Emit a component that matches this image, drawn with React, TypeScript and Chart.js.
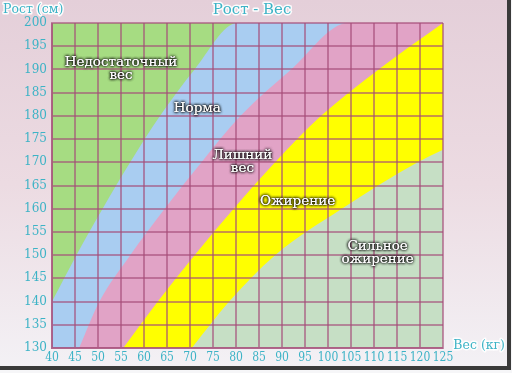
import React, { useEffect, useRef } from "react";
import { Chart, registerables } from "chart.js";
Chart.register(...registerables);

// Axes
const weightMin = 40;
const weightMax = 125;
const heightMin = 130;
const heightMax = 200;
const tickStep = 5;

// Boundaries (weight kg, height cm)
const underNormW = [40, 45.3, 51, 57, 63.5, 71, 80.3, 125];
const underNormH = [140, 150, 160, 170, 180, 190, 200, 200];

const normOverW = [45.9, 50.3, 57, 64.5, 72.5, 81, 92, 104.4, 125];
const normOverH = [130, 140, 150, 160, 170, 180, 190, 200, 200];

const overObeseW = [55.5, 63, 71, 79.5, 88.5, 98.5, 111, 125];
const overObeseH = [130, 140, 150, 160, 170, 180, 190, 200];

const obeseSevereW = [70.4, 78.5, 88.5, 103, 119.5, 125];
const obeseSevereH = [130, 140, 150, 160, 170, 172.7];

const fullW = [40, 125];
const fullH = [200, 200];

// Region labels
const regionLabels = [["Недостаточный", "вес"], ["Норма"], ["Лишний", "вес"], ["Ожирение"], ["Сильное", "ожирение"]];
const regionLabelW = [55.0, 71.6, 81.4, 93.4, 110.8];
const regionLabelH = [191.4, 181.6, 171.5, 161.5, 151.8];

const titleText = "Рост - Вес";
const yTitle = "Рост (см)";
const xTitle = "Вес (кг)";

const pts = (w: number[], h: number[]) => w.map((x, i) => ({ x, y: h[i] }));

const FONT = '"DejaVu Serif", serif';
const FONT_COND = '"DejaVu Serif Condensed", "DejaVu Serif", serif';
const TEAL = "#3db3c6";
const GRID = "rgba(165,75,120,0.6)";

export default function App() {
  const ref = useRef<HTMLCanvasElement | null>(null);
  useEffect(() => {
    if (!ref.current) return;
    const bgPlugin = {
      id: "bg",
      beforeDraw(chart: any) {
        const ctx = chart.ctx as CanvasRenderingContext2D;
        ctx.save();
        ctx.fillStyle = "#f6f6f8";
        ctx.fillRect(0, 0, 512, 373);
        const g = ctx.createLinearGradient(0, 0, 0, 367);
        g.addColorStop(0, "#e4cfd9");
        g.addColorStop(0.5, "#ecdbe2");
        g.addColorStop(1, "#f3f1f5");
        ctx.fillStyle = g;
        ctx.fillRect(0, 0, 507, 367);
        ctx.fillStyle = "#3a3a3a";
        ctx.fillRect(507, 0, 4, 370);
        ctx.fillRect(0, 366, 511, 4);
        ctx.restore();
      },
    };
    const textPlugin = {
      id: "texts",
      afterDraw(chart: any) {
        const ctx = chart.ctx as CanvasRenderingContext2D;
        const xs = chart.scales.x;
        const ys = chart.scales.y;
        ctx.save();
        const outlined = (t: string, x: number, y: number, size: number, align: CanvasTextAlign) => {
          ctx.font = `${size}px ${FONT}`;
          ctx.textAlign = align;
          ctx.textBaseline = "middle";
          ctx.lineJoin = "round";
          ctx.strokeStyle = "rgba(255,255,255,0.9)";
          ctx.lineWidth = 3;
          ctx.strokeText(t, x, y);
          ctx.fillStyle = TEAL;
          ctx.fillText(t, x, y);
        };
        outlined(titleText, 252, 10, 15, "center");
        outlined(yTitle, 3, 10, 12.5, "left");
        outlined(xTitle, 505, 346, 12.5, "right");
        ctx.font = `13.5px ${FONT}`;
        ctx.textAlign = "center";
        ctx.textBaseline = "middle";
        regionLabels.forEach((lines, i) => {
          const cx = xs.getPixelForValue(regionLabelW[i]);
          const cy = ys.getPixelForValue(regionLabelH[i]);
          lines.forEach((ln, j) => {
            const y = cy + j * 13;
            ctx.shadowColor = "rgba(0,0,0,1)";
            ctx.shadowBlur = 3;
            ctx.fillStyle = "#ffffff";
            ctx.fillText(ln, cx, y);
            ctx.fillText(ln, cx, y);
            ctx.fillText(ln, cx, y);
          });
        });
        ctx.restore();
      },
    };
    const common = {
      pointRadius: 0,
      borderWidth: 0,
      fill: "start",
      cubicInterpolationMode: "monotone",
    };
    const chart = new Chart(ref.current, {
      type: "line",
      data: {
        datasets: [
          { ...common, label: "Недостаточный вес", data: pts(fullW, fullH), backgroundColor: "#a6dc82", order: 5 },
          { ...common, label: "Норма", data: pts(underNormW, underNormH), backgroundColor: "#a9cdf1", order: 4 },
          { ...common, label: "Лишний вес", data: pts(normOverW, normOverH), backgroundColor: "#e1a3c6", order: 3 },
          { ...common, label: "Ожирение", data: pts(overObeseW, overObeseH), backgroundColor: "#ffff00", order: 2 },
          { ...common, label: "Сильное ожирение", data: pts(obeseSevereW, obeseSevereH), backgroundColor: "#c6dfc5", order: 1 },
        ] as any,
      },
      plugins: [bgPlugin, textPlugin],
      options: {
        responsive: false,
        maintainAspectRatio: false,
        animation: false,
        devicePixelRatio: 1,
        layout: { padding: { top: 23, right: 69, left: 0, bottom: 0 } },
        plugins: { legend: { display: false }, tooltip: { enabled: false }, title: { display: false } },
        scales: {
          x: {
            type: "linear",
            min: weightMin,
            max: weightMax,
            afterFit: (s: any) => { s.height = 25; },
            ticks: { stepSize: tickStep, autoSkip: false, maxRotation: 0, padding: 3, color: TEAL, font: { family: FONT_COND, size: 12 } },
            grid: { color: GRID, lineWidth: 2, drawTicks: false, z: 1 },
            border: { color: GRID, width: 2, z: 1 },
          },
          y: {
            type: "linear",
            min: heightMin,
            max: heightMax,
            afterFit: (s: any) => { s.width = 52; },
            ticks: { stepSize: tickStep, autoSkip: false, padding: 5, color: TEAL, font: { family: FONT, size: 12 } },
            grid: { color: GRID, lineWidth: 2, drawTicks: false, z: 1 },
            border: { color: GRID, width: 2, z: 1 },
          },
        },
      } as any,
    });
    return () => chart.destroy();
  }, []);
  return (
    <div style={{ position: "fixed", left: 0, top: 0, width: 512, height: 373 }}>
      <canvas ref={ref} width={512} height={373} />
    </div>
  );
}
